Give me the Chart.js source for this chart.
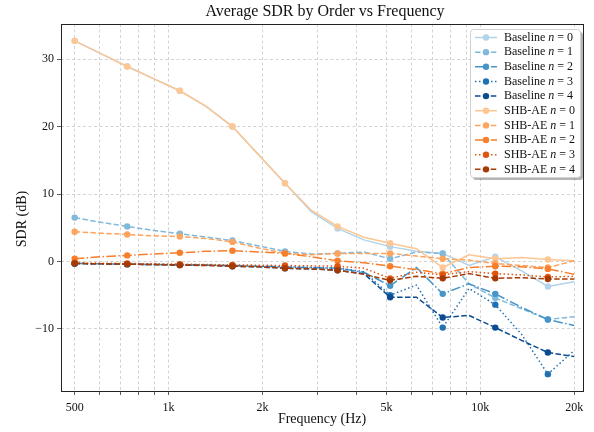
<!DOCTYPE html>
<html>
<head>
<meta charset="utf-8">
<script src="https://cdn.jsdelivr.net/npm/chart.js@4.4.1/dist/chart.umd.min.js"></script>
<style>
  html, body { margin: 0; padding: 0; background: #fff; }
  #wrap { width: 594px; height: 432px; }
</style>
</head>
<body>
<div id="wrap"><canvas id="sdrChart" width="594" height="432"></canvas></div>
<script>
// frequencies (Hz) of each evaluated band
const freqs = [500, 607, 737, 895, 1087, 1320, 1603, 1946, 2363, 2870, 3485, 4231, 5138, 6239, 7576, 9199, 11170, 13564, 16471, 20000];

// Baseline, order n = 0..4
const base0 = [32.7, 30.8, 28.9, 27.1, 25.3, 23.0, 20.0, 15.8, 11.6, 7.4, 4.9, 3.2, 2.2, 1.5, 1.2, -0.6, 0.7, -1.4, -3.7, -3.0];
const base1 = [6.5, 5.8, 5.2, 4.6, 4.1, 3.6, 3.1, 2.3, 1.5, 1.1, 1.2, 1.4, 0.4, 1.4, 1.2, -3.3, -5.4, -7.0, -8.6, -8.2];
const base2 = [-0.3, -0.35, -0.4, -0.45, -0.5, -0.55, -0.6, -0.7, -0.8, -0.9, -1.0, -1.6, -3.6, -0.9, -4.8, -3.3, -4.8, -6.8, -8.6, -9.5];
const base3 = [-0.3, -0.35, -0.4, -0.45, -0.5, -0.55, -0.6, -0.7, -0.8, -0.9, -1.0, -1.5, -5.0, -3.5, -9.8, -4.0, -6.4, -10.8, -16.7, -13.2];
const base4 = [-0.3, -0.35, -0.4, -0.45, -0.5, -0.55, -0.7, -0.8, -1.0, -1.1, -1.3, -1.8, -5.3, -5.3, -8.3, -8.0, -9.8, -11.7, -13.5, -14.1];

// SHB-AE, order n = 0..4
const shb0 = [32.7, 30.8, 28.9, 27.1, 25.3, 23.0, 20.0, 15.8, 11.6, 7.6, 5.2, 3.6, 2.7, 1.9, -0.9, 1.0, 0.4, 0.6, 0.3, 0.1];
const shb1 = [4.4, 4.2, 4.0, 3.8, 3.7, 3.4, 2.9, 2.0, 1.2, 1.0, 1.2, 1.2, 1.2, 0.8, 0.4, 0.2, -0.3, -0.6, -0.9, 0.1];
const shb2 = [0.4, 0.7, 0.9, 1.1, 1.3, 1.5, 1.6, 1.4, 1.2, 0.7, 0.1, -0.2, -0.7, -1.2, -1.8, -0.9, -0.7, -0.8, -1.1, -1.9];
const shb3 = [-0.2, -0.25, -0.3, -0.35, -0.4, -0.45, -0.5, -0.55, -0.6, -0.65, -0.7, -1.0, -2.5, -1.6, -2.0, -1.5, -1.8, -2.0, -2.3, -2.2];
const shb4 = [-0.3, -0.35, -0.4, -0.45, -0.55, -0.6, -0.7, -0.8, -1.0, -1.1, -1.3, -1.9, -2.8, -2.2, -2.5, -1.8, -2.5, -2.4, -2.6, -2.6];

const xTickVals = [500, 600, 700, 800, 900, 1000, 2000, 3000, 4000, 5000, 6000, 7000, 8000, 9000, 10000, 20000];
const xTickLabels = { 500: '500', 1000: '1k', 2000: '2k', 5000: '5k', 10000: '10k', 20000: '20k' };
const yTickVals = [-10, 0, 10, 20, 30];

const blues = ['#b2d3e9', '#80b9da', '#4795c8', '#2070b4', '#0b4b91'];
const oranges = ['#fdc692', '#fda45e', '#f77e2b', '#de5510', '#a63a04'];
const dashes = [[], [5.5, 2.4], [9.6, 2.4, 1.5, 2.4], [1.5, 2.5], [5.5, 2.4]];

const serif = '"Liberation Serif", "DejaVu Serif", serif';

function makeSet(prefix, n, values, color, order) {
    return {
        label: prefix + ' n = ' + n,
        data: freqs.map((f, i) => ({ x: f, y: values[i] })),
        borderColor: color,
        backgroundColor: color,
        borderWidth: 1.5,
        borderDash: dashes[n],
        pointRadius: (c) => (c.dataIndex % 2 === 0 ? 3.2 : 0),
        pointBorderWidth: 0,
        pointBackgroundColor: color,
        tension: 0,
        fill: false,
        order: order,
        legendPrefix: prefix,
        legendN: n
    };
}

const datasets = [
    makeSet('Baseline', 0, base0, blues[0], 19),
    makeSet('Baseline', 1, base1, blues[1], 18),
    makeSet('Baseline', 2, base2, blues[2], 17),
    makeSet('Baseline', 3, base3, blues[3], 16),
    makeSet('Baseline', 4, base4, blues[4], 15),
    makeSet('SHB-AE', 0, shb0, oranges[0], 14),
    makeSet('SHB-AE', 1, shb1, oranges[1], 13),
    makeSet('SHB-AE', 2, shb2, oranges[2], 12),
    makeSet('SHB-AE', 3, shb3, oranges[3], 11),
    makeSet('SHB-AE', 4, shb4, oranges[4], 10)
];

// frame, titles and legend drawn the matplotlib way
const decorPlugin = {
    id: 'decor',
    afterDraw(chart) {
        const ctx = chart.ctx;
        const a = chart.chartArea;
        ctx.save();
        ctx.strokeStyle = '#222';
        ctx.lineWidth = 1;
        ctx.strokeRect(Math.round(a.left) + 0.5, Math.round(a.top) + 0.5,
            Math.round(a.right - a.left), Math.round(a.bottom - a.top));

        ctx.fillStyle = '#111';
        ctx.font = '16px ' + serif;
        ctx.textAlign = 'center';
        ctx.textBaseline = 'middle';
        ctx.fillText('Average SDR by Order vs Frequency', (a.left + a.right) / 2 + 3, 12);

        // y axis label
        ctx.save();
        ctx.translate(22, 219);
        ctx.rotate(-Math.PI / 2);
        ctx.font = '14px ' + serif;
        ctx.fillText('SDR (dB)', 0, 0);
        ctx.restore();

        // legend box
        const bx = 470.5, by = 29.5, bw = 110, bh = 148;
        ctx.fillStyle = 'rgba(120,120,120,0.55)';
        ctx.beginPath();
        ctx.roundRect(bx + 2.5, by + 2.5, bw, bh, 3);
        ctx.fill();
        ctx.fillStyle = '#fff';
        ctx.strokeStyle = '#d0d0d0';
        ctx.beginPath();
        ctx.roundRect(bx, by, bw, bh, 3);
        ctx.fill();
        ctx.stroke();

        ctx.textAlign = 'left';
        chart.data.datasets.forEach((ds, k) => {
            const y = 37.5 + k * 14.65;
            ctx.strokeStyle = ds.borderColor;
            ctx.lineWidth = 1.5;
            ctx.setLineDash(ds.borderDash);
            ctx.beginPath();
            ctx.moveTo(475, y);
            ctx.lineTo(497, y);
            ctx.stroke();
            ctx.setLineDash([]);
            ctx.fillStyle = ds.borderColor;
            ctx.beginPath();
            ctx.arc(486, y, 3.2, 0, Math.PI * 2);
            ctx.fill();

            ctx.fillStyle = '#111';
            let tx = 504;
            ctx.font = '12px ' + serif;
            const t1 = ds.legendPrefix + ' ';
            ctx.fillText(t1, tx, y);
            tx += ctx.measureText(t1).width;
            ctx.font = 'italic 12px ' + serif;
            ctx.fillText('n', tx, y);
            tx += ctx.measureText('n').width + 3;
            ctx.font = '12px ' + serif;
            ctx.fillText('=', tx, y);
            tx += ctx.measureText('=').width + 3;
            ctx.fillText(String(ds.legendN), tx, y);
        });
        ctx.restore();
    }
};

new Chart(document.getElementById('sdrChart').getContext('2d'), {
    type: 'line',
    data: { datasets: datasets },
    plugins: [decorPlugin],
    options: {
        responsive: false,
        animation: false,
        layout: { padding: { top: 24, right: 11, left: 0, bottom: 0 } },
        plugins: {
            legend: { display: false },
            title: { display: false },
            tooltip: { enabled: false }
        },
        scales: {
            x: {
                type: 'logarithmic',
                min: 452,
                max: 21350,
                afterBuildTicks: (scale) => { scale.ticks = xTickVals.map(v => ({ value: v })); },
                afterFit: (scale) => { scale.height = 41; },
                ticks: {
                    autoSkip: false,
                    maxRotation: 0,
                    padding: 6,
                    color: '#111',
                    font: { family: serif, size: 12 },
                    callback: (v) => xTickLabels[v] || ''
                },
                grid: { color: '#c8c8c8', lineWidth: 0.8, tickLength: 4, tickColor: '#333' },
                border: { display: false, dash: [3, 2.5] },
                title: {
                    display: true,
                    text: 'Frequency (Hz)',
                    color: '#111',
                    font: { family: serif, size: 14 },
                    padding: { top: 0, bottom: 4 }
                }
            },
            y: {
                type: 'linear',
                min: -19.2,
                max: 35.2,
                afterBuildTicks: (scale) => { scale.ticks = yTickVals.map(v => ({ value: v })); },
                afterFit: (scale) => { scale.width = 61; },
                ticks: {
                    padding: 3,
                    color: '#111',
                    font: { family: serif, size: 12 },
                    callback: (v) => (v < 0 ? '\u2212' + Math.abs(v) : String(v))
                },
                grid: { color: '#c8c8c8', lineWidth: 0.8, tickLength: 4, tickColor: '#333' },
                border: { display: false, dash: [3, 2.5] },
                title: { display: false }
            }
        }
    }
});
</script>
</body>
</html>
